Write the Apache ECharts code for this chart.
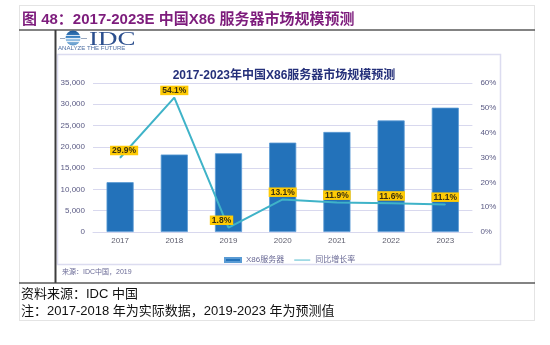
<!DOCTYPE html>
<html>
<head>
<meta charset="utf-8">
<script src="https://cdn.jsdelivr.net/npm/echarts@6/dist/echarts.min.js"></script>
<style>
  html, body { margin: 0; padding: 0; background: #fff; }
  #chart { width: 550px; height: 345px; }
</style>
</head>
<body>
<div id="chart"></div>
<script>
// X86 server market in China, 2017-2023 (units: million RMB), and year-on-year growth (%)
const years = ['2017', '2018', '2019', '2020', '2021', '2022', '2023'];
const serverMarket = [11700, 18200, 18500, 21000, 23500, 26200, 29200];
const yoyGrowth = [29.9, 54.1, 1.8, 13.1, 11.9, 11.6, 11.1];
const seriesNames = ['X86服务器', '同比增长率'];

const figureTitle = '图 48：2017-2023E 中国X86 服务器市场规模预测';
const chartTitle = '2017-2023年中国X86服务器市场规模预测';
const innerSource = '来源：IDC中国，2019';
const sourceNote = '资料来源：IDC 中国';
const footNote = '注：2017-2018 年为实际数据，2019-2023 年为预测值';

const SANS = 'Liberation Sans, Arial, Noto Sans CJK SC, sans-serif';
const AXIS_LABEL = '#5a5a84';
const GRID_LINE = '#d8d8ee';

const chart = echarts.init(document.getElementById('chart'), null, { renderer: 'canvas' });

// small per-label nudges so the growth tags sit clear of the line
const tagShift = { 0: [4, 0], 2: [-7, 0] };

const growthLabel = {
  show: true,
  position: 'top',
  distance: 2,
  formatter: p => p.value.toFixed(1) + '%',
  fontFamily: SANS,
  fontSize: 8.5,
  fontWeight: 'bold',
  color: '#3a3010',
  backgroundColor: '#ffcb05',
  padding: [1, 2, 0, 2]
};

const option = {
  backgroundColor: '#ffffff',
  animation: false,
  title: {
    text: chartTitle,
    left: 279,
    top: 65,
    textAlign: 'center',
    textStyle: { fontFamily: SANS, fontSize: 12, fontWeight: 'bold', color: '#25307a' }
  },
  grid: { left: 93, right: 77.6, top: 83, bottom: 113, containLabel: false },
  legend: {
    left: 219,
    top: 251,
    itemWidth: 16,
    itemHeight: 4,
    itemGap: 10,
    textStyle: { fontFamily: SANS, fontSize: 8, color: '#6a6a96' },
    data: [
      { name: seriesNames[0], icon: 'rect' },
      { name: seriesNames[1], icon: 'path://M0,0M0,1.6h16v0.9h-16zM16,4' }
    ]
  },
  xAxis: {
    type: 'category',
    data: years,
    axisLine: { show: true, lineStyle: { color: GRID_LINE, width: 1 } },
    axisTick: { show: false },
    axisLabel: { margin: 5, fontFamily: SANS, fontSize: 8, color: '#5e5e6e' }
  },
  yAxis: [
    {
      type: 'value',
      min: 0, max: 35000, interval: 5000,
      axisLine: { show: false },
      axisTick: { show: false },
      splitLine: { lineStyle: { color: GRID_LINE, width: 1 } },
      axisLabel: {
        margin: 8, fontFamily: SANS, fontSize: 8, color: AXIS_LABEL,
        formatter: v => v.toLocaleString('en-US')
      }
    },
    {
      type: 'value',
      min: 0, max: 60, interval: 10,
      axisLine: { show: false },
      axisTick: { show: false },
      splitLine: { show: false },
      axisLabel: { margin: 8, fontFamily: SANS, fontSize: 8, color: AXIS_LABEL, formatter: '{value}%' }
    }
  ],
  series: [
    {
      name: seriesNames[0],
      type: 'bar',
      yAxisIndex: 0,
      barWidth: '50%',
      data: serverMarket,
      itemStyle: { color: '#2372ba', borderColor: '#5a9bd4', borderWidth: 0.8 }
    },
    {
      name: seriesNames[1],
      type: 'line',
      yAxisIndex: 1,
      symbol: 'circle',
      symbolSize: 1,
      showSymbol: true,
      z: 5,
      lineStyle: { color: '#3fb3c8', width: 2 },
      itemStyle: { color: '#3fb3c8' },
      data: yoyGrowth.map((v, i) => tagShift[i]
        ? { value: v, label: Object.assign({}, growthLabel, { offset: tagShift[i] }) }
        : v),
      label: growthLabel
    }
  ],
  graphic: [
    // outer dotted frame of the figure
    { type: 'rect', silent: true, shape: { x: 19.5, y: 5.5, width: 515, height: 315 },
      style: { fill: 'none', stroke: '#c8c8c8', lineWidth: 1, lineDash: [1, 1] } },
    // figure caption
    { type: 'text', left: 22, top: 12,
      style: { text: figureTitle, font: 'bold 15px ' + SANS, fill: '#7d1c7c' } },
    // heavy rules framing the picture
    { type: 'line', silent: true, shape: { x1: 19, y1: 30, x2: 535, y2: 30 },
      style: { stroke: '#5a5a5a', lineWidth: 1.5 } },
    { type: 'line', silent: true, shape: { x1: 19, y1: 283, x2: 535, y2: 283 },
      style: { stroke: '#5a5a5a', lineWidth: 1.5 } },
    { type: 'line', silent: true, shape: { x1: 55.5, y1: 30, x2: 55.5, y2: 283 },
      style: { stroke: '#3c3c3c', lineWidth: 2 } },
    // light frame around the plot
    { type: 'rect', silent: true, z: -1, shape: { x: 57.5, y: 54.5, width: 443, height: 210 },
      style: { fill: '#ffffff', stroke: '#dcdcf0', lineWidth: 1.5 } },
    // IDC logo: striped globe and wordmark
    { type: 'line', silent: true, shape: { x1: 60, y1: 38.5, x2: 87, y2: 38.5 },
      style: { stroke: '#9aa9c0', lineWidth: 1 } },
    { type: 'circle', silent: true, shape: { cx: 73, cy: 38, r: 7.5 },
      style: { fill: new echarts.graphic.LinearGradient(0, 0, 0, 1, [
        { offset: 0, color: '#1d5797' }, { offset: 0.45, color: '#3f86c6' },
        { offset: 0.6, color: '#9cc4e6' }, { offset: 1, color: '#5b95c8' }]) } },
    { type: 'line', silent: true, shape: { x1: 65, y1: 35.5, x2: 81, y2: 35.5 }, style: { stroke: '#ffffff', lineWidth: 0.8 } },
    { type: 'line', silent: true, shape: { x1: 65, y1: 38.5, x2: 81, y2: 38.5 }, style: { stroke: '#ffffff', lineWidth: 0.8 } },
    { type: 'line', silent: true, shape: { x1: 65, y1: 41.5, x2: 81, y2: 41.5 }, style: { stroke: '#ffffff', lineWidth: 0.8 } },
    { type: 'text', x: 89, y: 31, scaleX: 1.42,
      style: { text: 'IDC', font: '19px Liberation Serif, serif', fill: '#2c4f8e' } },
    { type: 'text', x: 58, y: 46.5, scaleX: 1.35,
      style: { text: 'ANALYZE THE FUTURE', font: '4.5px ' + SANS, fill: '#4f6fa3' } },
    // source line inside the picture
    { type: 'text', left: 62, top: 269,
      style: { text: innerSource, font: '7px ' + SANS, fill: '#6a6a96' } },
    // notes under the figure
    { type: 'text', left: 21, top: 288,
      style: { text: sourceNote, font: '13px ' + SANS, fill: '#111111' } },
    { type: 'text', left: 21, top: 305,
      style: { text: footNote, font: '13px ' + SANS, fill: '#111111' } }
  ]
};

chart.setOption(option);
</script>
</body>
</html>
